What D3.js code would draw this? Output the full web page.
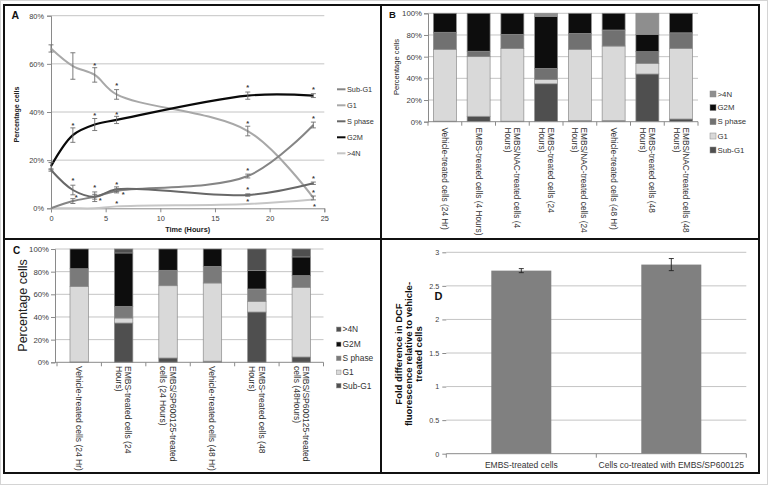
<!DOCTYPE html>
<html><head><meta charset="utf-8">
<script src="https://cdn.jsdelivr.net/npm/d3@7"></script>
<style>
body{margin:0;background:#fff;}
svg{display:block;font-family:"Liberation Sans",Arial,sans-serif;}
</style>
</head><body>
<svg id="c" width="768" height="485"></svg>
<script>
// ---------- DATA ----------
// Panel A: time course (% cells)
const timeHours = [0, 2, 4, 6, 18, 24];
const subG1Time = [0, 3, 4.8, 7.2, 13.4, 34.6];
const g1Time = [66.4, 59.1, 55.4, 47.3, 32.1, 4.3];
const sPhaseTime = [15.9, 7.6, 4.8, 7.9, 5.5, 10.4];
const g2mTime = [17.5, 30.4, 34.8, 36.7, 46.8, 46.8];
const over4NTime = [0, 0, 0, 0.8, 1.8, 3.7];
const subG1Err = [0, 1, 1, 0.8, 0.8, 1.2];
const g1Err = [1.5, 5.5, 3, 2, 2, 0.8];
const sPhaseErr = [0.5, 2, 2, 1, 0.5, 0.5];
const g2mErr = [1.5, 3, 2.5, 1.5, 1.5, 0.8];
const asteriskPoints = [[4,59.5],[6,51.5],[18,50.3],[24,49.5],[2,34.6],[4,38.8],[6,39.4],[18,35.6],[24,37.6],
  [2,11.8],[4,9.0],[6,10.0],[18,15.9],[24,12.5],[2.3,4.8],[4.5,3.5],[6.6,6.2],[6,2.4],[18,7.9],[18,3.2],[24,6.9],[24.1,1.1]];
const yTicksA = [0, 20, 40, 60, 80];
const xTicksA = [0, 5, 10, 15, 20, 25];

// Panels B and C: stacked phase distribution (%)
const phaseKeys = ["Sub-G1", "G1", "S phase", "G2M", ">4N"];
const categoriesB = ["Vehicle-treated cells (24 Hr)", "EMBS-treated cells (4 Hours)", "EMBS/NAC-treated cells (4\nHours)",
  "EMBS-treated cells (24\nHours)", "EMBS/NAC-treated cells (24\nHours)", "Vehicle-treated cells (48 Hr)",
  "EMBS-treated cells (48\nHours)", "EMBS/NAC-treated cells (48\nHours)"];
const subG1B = [0.5, 5, 0.5, 35, 1, 1, 44, 2.5];
const g1B = [66.3, 55, 67, 4, 65.8, 68.8, 9.8, 65.2];
const sPhaseB = [15.7, 5, 13.1, 10.2, 14.7, 14.8, 10.8, 14.3];
const g2mB = [17.5, 35, 19.4, 47.8, 18.5, 15.4, 16, 18];
const over4NB = [0, 0, 0, 3, 0, 0, 19.4, 0];

const categoriesC = ["Vehicle-treated cells (24 Hr)", "EMBS-treated cells (24\nHours)", "EMBS/SP600125-treated\ncells (24 Hours)",
  "Vehicle-treated cells (48 Hr)", "EMBS-treated cells (48\nHours)", "EMBS/SP600125-treated\ncells (48Hours)"];
const subG1C = [0.3, 34.7, 3.8, 1, 44.4, 4.7];
const g1C = [66.7, 4.4, 63.8, 69, 9.4, 61.5];
const sPhaseC = [15.6, 10.3, 13.6, 14.7, 10.9, 10.3];
const g2mC = [17.4, 47.1, 18.8, 15.3, 16.2, 16.5];
const over4NC = [0, 3.5, 0, 0, 19.1, 7];
const pctTicks = [0, 20, 40, 60, 80, 100];

// Panel D: DCF fluorescence
const dcfCategories = ["EMBS-treated cells", "Cells co-treated with EMBS/SP600125"];
const dcfFold = [2.727, 2.817];
const dcfErr = [0.03, 0.09];
const dcfTicks = [0, 0.5, 1, 1.5, 2, 2.5, 3];

// ---------- DRAW ----------
const svg = d3.select("#c");
svg.append("rect").attr("width",768).attr("height",485).attr("fill","#fff");
svg.append("rect").attr("x",0.5).attr("y",0.5).attr("width",767).attr("height",484)
  .attr("fill","none").attr("stroke","#d4d4d4");

function styleAxis(g, fs){
  g.select(".domain").attr("stroke","#8a8a8a");
  g.selectAll(".tick line").attr("stroke","#8a8a8a");
  g.selectAll(".tick text").attr("font-size",fs).attr("fill","#404040").attr("font-family","Liberation Sans, Arial, sans-serif");
}

// ===== Panel A =====
(function(){
  const g = svg.append("g");
  const x = d3.scaleLinear().domain([0,25]).range([51,324.3]);
  const y = d3.scaleLinear().domain([0,80]).range([208.3,15.7]);
  g.selectAll(null).data(yTicksA.filter(d=>d>0)).join("line")
    .attr("x1",x(0)).attr("x2",x(25)).attr("y1",d=>y(d)).attr("y2",d=>y(d))
    .attr("stroke","#c4c4c4");
  const ya = g.append("g").attr("transform",`translate(${x(0)},0)`)
    .call(d3.axisLeft(y).tickValues(yTicksA).tickFormat(d=>d+"%").tickSize(4).tickPadding(3));
  styleAxis(ya, 7.4);
  const xa = g.append("g").attr("transform",`translate(0,${y(0)})`)
    .call(d3.axisBottom(x).tickValues(xTicksA).tickSize(4).tickPadding(3));
  styleAxis(xa, 7.4);

  const series = [
    {name:"Sub-G1", v:subG1Time, e:subG1Err, c:"#858585", w:2},
    {name:"G1", v:g1Time, e:g1Err, c:"#a8a8a8", w:2},
    {name:"S phase", v:sPhaseTime, e:sPhaseErr, c:"#686868", w:2},
    {name:"G2M", v:g2mTime, e:g2mErr, c:"#0a0a0a", w:2.2},
    {name:">4N", v:over4NTime, e:null, c:"#c6c6c6", w:2}
  ];
  const line = d3.line().x((d,i)=>x(timeHours[i])).y(d=>y(d)).curve(d3.curveCatmullRom.alpha(0.5));
  [4,1,0,2,3].forEach(k=>{
    const s = series[k];
    g.append("path").attr("d",line(s.v)).attr("fill","none").attr("stroke",s.c).attr("stroke-width",s.w);
  });
  series.forEach(s=>{
    if(!s.e) return;
    s.v.forEach((v,i)=>{
      const e = s.e[i]; if(!e) return;
      const cx = x(timeHours[i]);
      const eg = g.append("g").attr("stroke","#6e6e6e").attr("stroke-width",0.9);
      eg.append("line").attr("x1",cx).attr("x2",cx).attr("y1",y(v-e)).attr("y2",y(v+e));
      eg.append("line").attr("x1",cx-2.5).attr("x2",cx+2.5).attr("y1",y(v-e)).attr("y2",y(v-e));
      eg.append("line").attr("x1",cx-2.5).attr("x2",cx+2.5).attr("y1",y(v+e)).attr("y2",y(v+e));
    });
  });
  g.selectAll(null).data(asteriskPoints).join("text")
    .attr("x",d=>x(d[0])).attr("y",d=>y(d[1])+3.2).attr("text-anchor","middle")
    .attr("font-size",7.5).attr("font-weight","bold").attr("fill","#3a3a3a").text("*");

  series.forEach((s,i)=>{
    const ly = 89.3 + i*16;
    g.append("line").attr("x1",337).attr("x2",345.5).attr("y1",ly).attr("y2",ly).attr("stroke",s.c).attr("stroke-width",2);
    g.append("text").attr("x",347).attr("y",ly).attr("dominant-baseline","central")
      .attr("font-size",7.3).attr("fill","#333").text(s.name);
  });
  g.append("text").attr("x",187.7).attr("y",229).attr("text-anchor","middle").attr("dominant-baseline","central")
    .attr("font-size",7.3).attr("font-weight","bold").attr("fill","#222").text("Time (Hours)");
  g.append("text").attr("transform","translate(17,114.5) rotate(-90)").attr("text-anchor","middle")
    .attr("dominant-baseline","central").attr("font-size",7.1).attr("font-weight","bold").attr("fill","#222").text("Percentage cells");
  g.append("text").attr("x",11.5).attr("y",18.5).attr("font-size",10.5).attr("font-weight","bold").attr("fill","#111").text("A");
})();

// ===== stacked panels =====
function drawStacked(cats, series, colors, geom){
  const g = svg.append("g");
  const x = d3.scaleBand().domain(cats).range([geom.x0, geom.x1]).paddingInner(geom.pad).paddingOuter(geom.pad/2);
  const y = d3.scaleLinear().domain([0,100]).range([geom.yb, geom.yt]);
  g.selectAll(null).data(pctTicks.filter(d=>d>0)).join("line")
    .attr("x1",geom.ax).attr("x2",geom.x1).attr("y1",d=>y(d)).attr("y2",d=>y(d)).attr("stroke","#c4c4c4");
  const ya = g.append("g").attr("transform",`translate(${geom.ax},0)`)
    .call(d3.axisLeft(y).tickValues(pctTicks).tickFormat(d=>d+"%").tickSize(4).tickPadding(2));
  styleAxis(ya, geom.tickFs);
  const rows = cats.map((c,i)=>{const o={cat:c}; phaseKeys.forEach((k,j)=>o[k]=series[j][i]); return o;});
  const stacked = d3.stack().keys(phaseKeys)(rows);
  g.selectAll(null).data(stacked).join("g").attr("fill",(d,i)=>colors[i])
    .selectAll("rect").data(d=>d.filter(p=>p[1]-p[0]>0)).join("rect")
    .attr("x",d=>x(d.data.cat)).attr("width",x.bandwidth())
    .attr("y",d=>y(d[1])).attr("height",d=>y(d[0])-y(d[1]))
    .attr("stroke","#8c8c8c").attr("stroke-width",0.7);
  g.append("line").attr("x1",geom.ax).attr("x2",geom.x1).attr("y1",y(0)).attr("y2",y(0)).attr("stroke","#8a8a8a");
  const step = x.step();
  cats.forEach((c,i)=>{
    const bx = x(c) - step*geom.pad/2;
    g.append("line").attr("x1",bx).attr("x2",bx).attr("y1",y(0)).attr("y2",y(0)+4).attr("stroke","#8a8a8a");
  });
  g.append("line").attr("x1",geom.x1).attr("x2",geom.x1).attr("y1",y(0)).attr("y2",y(0)+4).attr("stroke","#8a8a8a");
  cats.forEach(c=>{
    const lines = c.split("\n");
    const cx = x(c) + x.bandwidth()/2;
    const t = g.append("text").attr("transform",`translate(${cx},${geom.labelY}) rotate(90)`)
      .attr("font-size",geom.catFs).attr("fill","#333");
    lines.forEach((ln,li)=>{
      t.append("tspan").attr("x",0).attr("y",(li-(lines.length-1)/2)*geom.lh)
        .attr("dominant-baseline","central").text(ln);
    });
  });
  const order = [4,3,2,1,0];
  order.forEach((k,i)=>{
    const ly = geom.legY[i];
    g.append("rect").attr("x",geom.legX).attr("y",ly-geom.sq/2).attr("width",geom.sq).attr("height",geom.sq)
      .attr("fill",colors[k]).attr("stroke","#8c8c8c").attr("stroke-width",0.5);
    g.append("text").attr("x",geom.legX+geom.sq+1.5).attr("y",ly).attr("dominant-baseline","central")
      .attr("font-size",geom.legFs).attr("fill","#333").text(phaseKeys[k]);
  });
  g.append("text").attr("transform",`translate(${geom.ylabX},${geom.ylabY}) rotate(-90)`)
    .attr("text-anchor","middle").attr("dominant-baseline","central")
    .attr("font-size",geom.ylabFs).attr("fill","#222").text("Percentage cells");
  g.append("text").attr("x",geom.letter[0]).attr("y",geom.letter[1]).attr("font-size",geom.letter[2])
    .attr("font-weight","bold").attr("fill","#111").text(geom.letter[3]);
}

drawStacked(categoriesB, [subG1B, g1B, sPhaseB, g2mB, over4NB],
  ["#4f4f4f","#d9d9d9","#717171","#0d0d0d","#8e8e8e"],
  {x0:428, x1:698, ax:428, pad:0.32, yb:121.7, yt:13.3, tickFs:7.8, labelY:127.5, catFs:8.3, lh:9,
   legX:710, legY:[94,107.6,121.7,136,150], sq:6, legFs:7.8, ylabX:396, ylabY:67, ylabFs:7.6,
   letter:[389,18,9.5,"B"]});

drawStacked(categoriesC, [subG1C, g1C, sPhaseC, g2mC, over4NC],
  ["#4f4f4f","#d9d9d9","#7a7a7a","#0d0d0d","#4f4f4f"],
  {x0:57, x1:323.5, ax:55, pad:0.585, yb:362.3, yt:249, tickFs:7.8, labelY:366, catFs:8.5, lh:9.3,
   legX:336.5, legY:[329.3,344.3,358.3,372.3,385.7], sq:4.5, legFs:8.4, ylabX:23.3, ylabY:305.5, ylabFs:12.5,
   letter:[13,254,10,"C"]});

// ===== Panel D =====
(function(){
  const g = svg.append("g");
  const x = d3.scaleBand().domain(dcfCategories).range([446.3,746.3]).paddingInner(0.6).paddingOuter(0.3);
  const y = d3.scaleLinear().domain([0,3]).range([453.7,252.3]);
  g.selectAll(null).data(dcfTicks.filter(d=>d>0)).join("line")
    .attr("x1",446.3).attr("x2",746.3).attr("y1",d=>y(d)).attr("y2",d=>y(d)).attr("stroke","#c4c4c4");
  const ya = g.append("g").attr("transform","translate(446.3,0)")
    .call(d3.axisLeft(y).tickValues(dcfTicks).tickFormat(d=>String(d)).tickSize(4).tickPadding(3));
  styleAxis(ya, 7.2);
  ya.select(".domain").remove();
  g.selectAll(null).data(dcfCategories).join("rect")
    .attr("x",d=>x(d)).attr("width",x.bandwidth())
    .attr("y",(d,i)=>y(dcfFold[i])).attr("height",(d,i)=>y(0)-y(dcfFold[i])).attr("fill","#808080");
  dcfCategories.forEach((c,i)=>{
    const cx = x(c)+x.bandwidth()/2, v=dcfFold[i], e=dcfErr[i];
    const eg = g.append("g").attr("stroke","#222").attr("stroke-width",0.9);
    eg.append("line").attr("x1",cx).attr("x2",cx).attr("y1",y(v-e)).attr("y2",y(v+e));
    eg.append("line").attr("x1",cx-2.5).attr("x2",cx+2.5).attr("y1",y(v-e)).attr("y2",y(v-e));
    eg.append("line").attr("x1",cx-2.5).attr("x2",cx+2.5).attr("y1",y(v+e)).attr("y2",y(v+e));
    g.append("text").attr("x",cx).attr("y",464.7).attr("text-anchor","middle").attr("dominant-baseline","central")
      .attr("font-size",8.5).attr("fill","#333").text(c);
  });
  g.append("line").attr("x1",446.3).attr("x2",746.3).attr("y1",y(0)).attr("y2",y(0)).attr("stroke","#8a8a8a");
  [446.3, 596.3, 746.3].forEach(bx=>{
    g.append("line").attr("x1",bx).attr("x2",bx).attr("y1",y(0)).attr("y2",y(0)+4).attr("stroke","#8a8a8a");
  });
  const lab = ["Fold difference in DCF","fluorescence relative to vehicle-","treated cells"];
  const t = g.append("text").attr("transform","translate(408,354) rotate(-90)").attr("text-anchor","middle")
    .attr("font-size",9.5).attr("font-weight","bold").attr("fill","#111");
  lab.forEach((ln,i)=>t.append("tspan").attr("x",0).attr("y",(i-1)*10).attr("dominant-baseline","central").text(ln));
  g.append("text").attr("x",434.5).attr("y",300).attr("font-size",11).attr("font-weight","bold").attr("fill","#111").text("D");
})();

// ===== frame =====
svg.append("rect").attr("x",4).attr("y",5).attr("width",755).attr("height",468)
  .attr("fill","none").attr("stroke","#111").attr("stroke-width",2);
svg.append("line").attr("x1",381).attr("x2",381).attr("y1",5).attr("y2",473).attr("stroke","#111").attr("stroke-width",2);
svg.append("line").attr("x1",4).attr("x2",759).attr("y1",239).attr("y2",239).attr("stroke","#111").attr("stroke-width",2);
</script>
</body></html>
